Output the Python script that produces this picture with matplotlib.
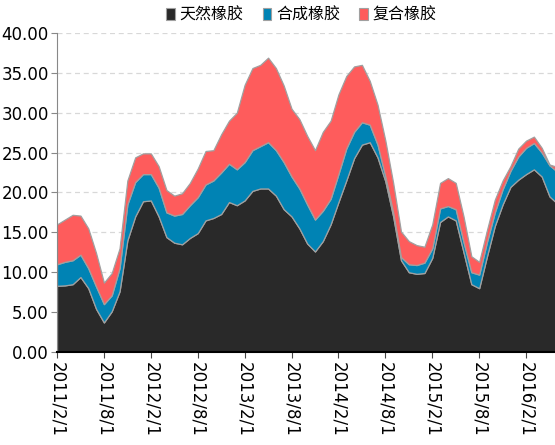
import numpy as np
import pandas as pd
import matplotlib
matplotlib.use("Agg")
import matplotlib.pyplot as plt
from matplotlib.patches import Patch

# Monthly data, 2011/2 - 2016/6
dates = pd.date_range("2011-02-01", periods=65, freq="MS")

# top of each layer (cumulative)
natural_top = [8.3, 8.35, 8.5, 9.4, 8.0, 5.4, 3.7, 5.1, 7.6, 14.0,
               17.0, 18.9, 19.0, 17.0, 14.4, 13.7, 13.5, 14.3, 14.9, 16.5,
               16.8, 17.3, 18.8, 18.4, 19.0, 20.2, 20.5, 20.5, 19.6, 17.9,
               17.0, 15.5, 13.6, 12.6, 13.9, 16.0, 18.8, 21.5, 24.3, 26.0,
               26.3, 24.4, 21.4, 17.0, 11.5, 10.0, 9.8, 9.9, 11.8, 16.3,
               17.0, 16.5, 12.5, 8.5, 8.0, 12.0, 15.8, 18.5, 20.7, 21.6,
               22.3, 22.9, 22.0, 19.5, 18.6]
synthetic_top = [11.0, 11.3, 11.5, 12.2, 10.5, 8.2, 6.0, 7.1, 10.5, 18.5,
                 21.3, 22.3, 22.3, 20.6, 17.5, 17.1, 17.3, 18.4, 19.4, 21.0,
                 21.5, 22.5, 23.6, 22.9, 23.8, 25.3, 25.8, 26.3, 25.3, 23.8,
                 22.0, 20.5, 18.5, 16.6, 17.7, 19.2, 22.3, 25.5, 27.6, 28.8,
                 28.5, 26.0, 22.0, 17.5, 11.9, 11.0, 10.9, 11.2, 13.0, 18.0,
                 18.3, 17.9, 13.8, 10.0, 9.7, 13.8, 17.5, 20.4, 22.7, 24.5,
                 25.6, 26.2, 25.0, 23.4, 22.6]
compound_top = [16.0, 16.6, 17.2, 17.1, 15.5, 12.4, 8.7, 9.9, 13.0, 21.5,
                24.4, 24.9, 24.9, 23.3, 20.3, 19.6, 19.9, 21.2, 23.0, 25.2,
                25.3, 27.3, 29.0, 30.0, 33.5, 35.6, 36.0, 36.9, 35.6, 33.4,
                30.5, 29.2, 27.1, 25.3, 27.6, 29.0, 32.3, 34.6, 35.8, 36.0,
                34.0, 31.0, 26.5, 21.2, 15.1, 13.9, 13.4, 13.2, 16.0, 21.2,
                21.8, 21.2, 17.0, 12.0, 11.3, 15.3, 19.1, 21.5, 23.3, 25.5,
                26.5, 27.0, 25.6, 23.5, 23.2]

natural = np.array(natural_top)
synthetic = np.array(synthetic_top) - natural
compound = np.array(compound_top) - np.array(synthetic_top)

labels = ["天然橡胶", "合成橡胶", "复合橡胶"]
colors = ["#292929", "#0083b4", "#fe5c5c"]

x = np.arange(len(dates))

fig = plt.figure(figsize=(5.55, 4.45), dpi=100)
ax = fig.add_axes([0.1027, 0.209, 0.8973, 0.717])

ax.stackplot(x, natural, synthetic, compound, colors=colors,
             edgecolor="#a0a0a0", linewidth=0.9, zorder=2)

ax.set_ylim(0, 40)
ax.set_xlim(0, 63.7)
ax.set_yticks(np.arange(0, 41, 5))
ax.set_yticklabels([f"{v:.2f}" for v in np.arange(0, 41, 5)],
                   family=["Liberation Sans Narrow", "DejaVu Sans"], fontsize=12)
ax.yaxis.grid(True, linestyle=(0, (4, 3)), color="#d8d8d8", linewidth=0.9, zorder=0)
ax.set_axisbelow(True)

ticks = x[::6]
ax.set_xticks(ticks)
ax.set_xticklabels([f"{d.year}/{d.month}/{d.day}" for d in dates[::6]],
                   rotation=-90, fontsize=12, va="top", ha="center")

for s in ["top", "right"]:
    ax.spines[s].set_visible(False)
ax.spines["left"].set_color("#888888")
ax.spines["bottom"].set_color("#000000")
ax.spines["bottom"].set_linewidth(1.5)
ax.tick_params(axis="y", length=4, color="#888888", pad=2)
ax.tick_params(axis="x", length=4, color="#444444", pad=3)

handles = [Patch(facecolor=c, edgecolor="#a0a0a0", linewidth=0.8) for c in colors]
fig.legend(handles, labels, loc="center", bbox_to_anchor=(0.543, 0.966), ncol=3,
           frameon=False, handlelength=0.55, handleheight=0.75, handletextpad=0.3,
           columnspacing=1.2, prop={"family": ["Noto Sans CJK SC", "DejaVu Sans"], "size": 11.5})

fig.savefig("out.png", dpi=100)
